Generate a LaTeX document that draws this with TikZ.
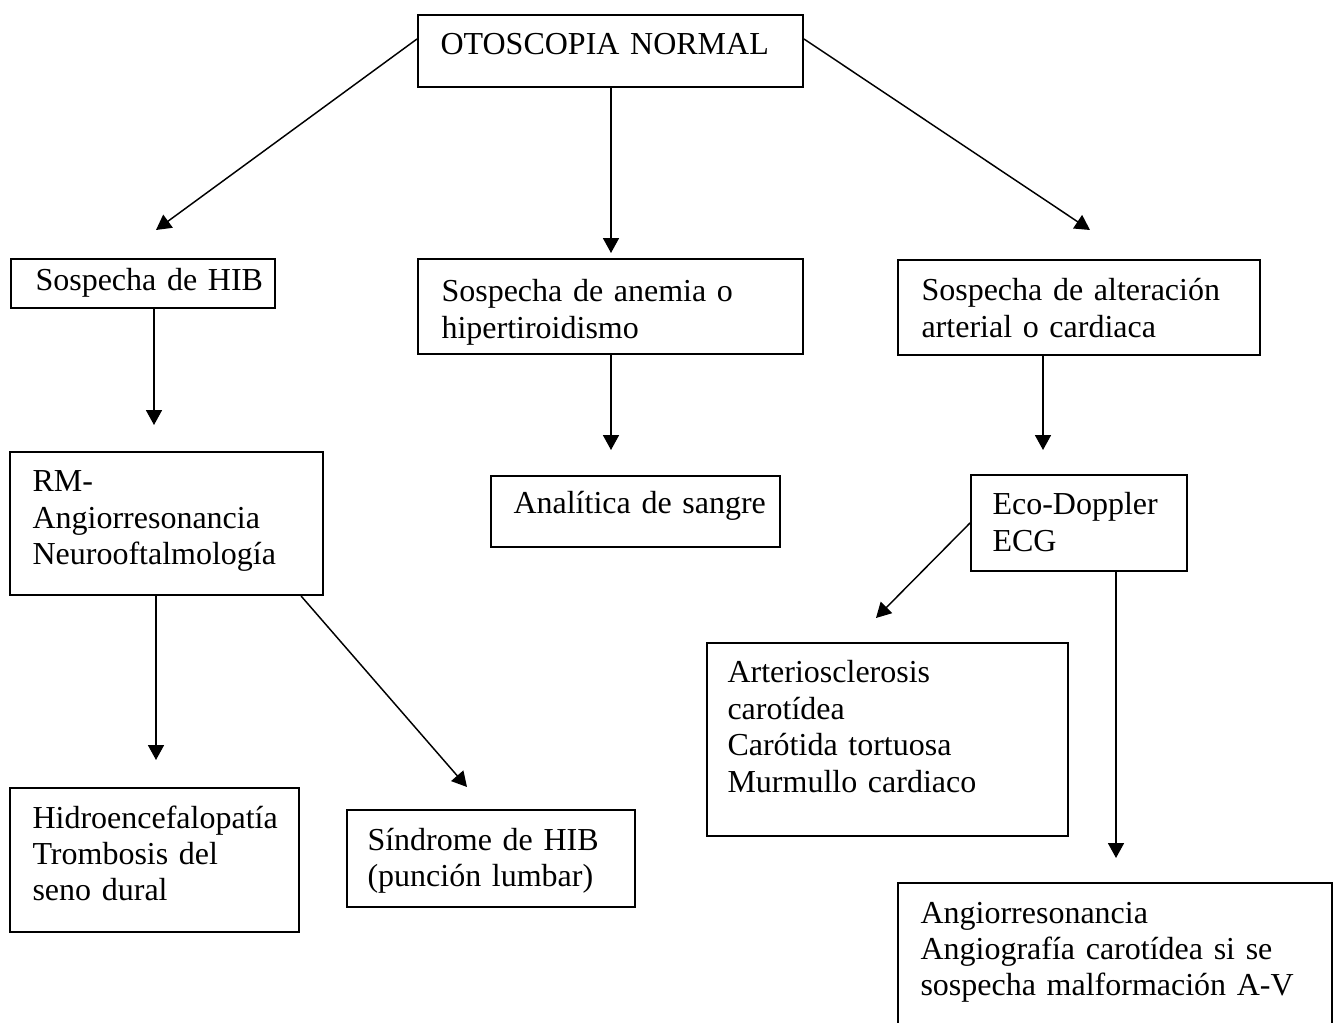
\documentclass[tikz,border=0pt]{standalone}
\usepackage{fontspec}
\setmainfont{Liberation Serif}
\usetikzlibrary{arrows.meta}
\usetikzlibrary{fit}

\tikzset{
  caja/.style={draw, line width=0.75pt, inner sep=0pt},
  texto/.style={anchor=base west, inner sep=0pt, text width=8cm, align=left,
    font=\fontsize{12}{13.65}\selectfont},
  flecha/.style={-{Triangle[length=5.6pt,width=6pt]}, line width=0.55pt}
}

\begin{document}
\begin{tikzpicture}[x=0.375pt,y=-0.375pt]
		\clip (0,0) rectangle (1336,1023);
		\node[caja, fit={(418,15) (803,87)}] (oto) {};
		\node[texto] (otoT) at (440,55) {OTOSCOPIA NORMAL};
		\node[caja, fit={(11,259) (275,308)}] (hib) {};
		\node[texto] (hibT) at (35,291) {Sospecha de HIB};
		\node[caja, fit={(418,259) (803,354)}] (anemia) {};
		\node[texto] (anemiaT) at (441,302) {Sospecha de anemia o\\hipertiroidismo};
		\node[caja, fit={(898,260) (1260,355)}] (alter) {};
		\node[texto] (alterT) at (921,301) {Sospecha de alteración\\arterial o cardiaca};
		\node[caja, fit={(10,452) (323,595)}] (rm) {};
		\node[texto] (rmT) at (32,492) {RM-\\Angiorresonancia\\Neurooftalmología};
		\node[caja, fit={(491,476) (780,547)}] (anal) {};
		\node[texto] (analT) at (513,514) {Analítica de sangre};
		\node[caja, fit={(971,475) (1187,571)}] (eco) {};
		\node[texto] (ecoT) at (992,515) {Eco-Doppler\\ECG};
		\node[caja, fit={(707,643) (1068,836)}] (arter) {};
		\node[texto] (arterT) at (727,683) {Arteriosclerosis\\carotídea\\Carótida tortuosa\\Murmullo cardiaco};
		\node[caja, fit={(10,788) (299,932)}] (hidro) {};
		\node[texto] (hidroT) at (32,828) {Hidroencefalopatía\\Trombosis del\\seno dural};
		\node[caja, fit={(347,810) (635,907)}] (sindr) {};
		\node[texto] (sindrT) at (367,850) {Síndrome de HIB\\(punción lumbar)};
		\node[caja, fit={(898,883) (1332,1050)}] (angio) {};
		\node[texto] (angioT) at (920,923) {Angiorresonancia\\Angiografía carotídea si se\\sospecha malformación A-V};
		\coordinate (t1) at (156,230);
		\coordinate (t2) at (611,253);
		\coordinate (t3) at (1090,230);
		\coordinate (t4) at (154,425);
		\coordinate (t5) at (611,450);
		\coordinate (t6) at (1043,450);
		\coordinate (t7) at (156,760);
		\coordinate (t8) at (467,787);
		\coordinate (t9) at (876,618);
		\coordinate (t10) at (1116,858);
		\draw[flecha] ([yshift=4.5pt]oto.west) -- (t1);
		\draw[flecha] (oto.south -| t2) -- (t2);
		\draw[flecha] ([yshift=4.5pt]oto.east) -- (t3);
		\draw[flecha] (hib.south -| t4) -- (t4);
		\draw[flecha] (anemia.south -| t5) -- (t5);
		\draw[flecha] (alter.south -| t6) -- (t6);
		\draw[flecha] (rm.south -| t7) -- (t7);
		\draw[flecha] ([xshift=-8.6pt]rm.south east) -- (t8);
		\draw[flecha] (eco.west) -- (t9);
		\draw[flecha] (eco.south -| t10) -- (t10);
	\end{tikzpicture}
\end{document}
